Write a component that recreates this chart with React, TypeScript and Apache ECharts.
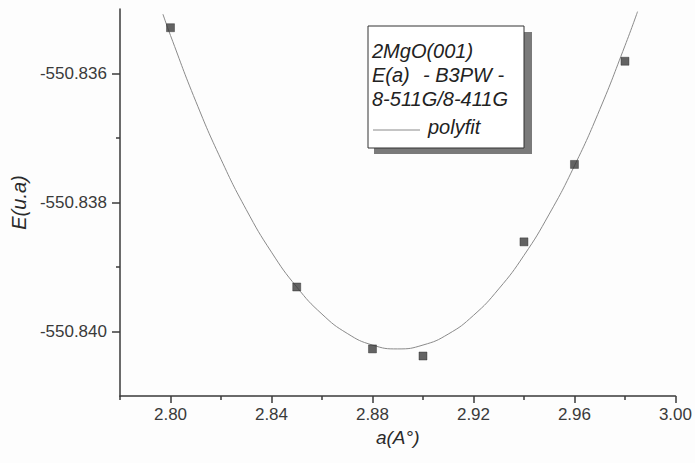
import React, { useEffect, useRef } from "react";
import * as echarts from "echarts";

// Measured data points: lattice parameter a (Å) vs energy E (u.a)
const latticeA = [2.80, 2.85, 2.88, 2.90, 2.94, 2.96, 2.98];
const energyE = [-550.83529, -550.83931, -550.84027, -550.84038, -550.83861, -550.83741, -550.83581];

// Polyfit curve
const fitA = [2.797, 2.80, 2.81, 2.82, 2.83, 2.84, 2.85, 2.86, 2.87, 2.88, 2.89, 2.90, 2.91, 2.92, 2.93, 2.94, 2.95, 2.96, 2.97, 2.98, 2.985];
const fitE = [
  -550.83508, -550.83541, -550.83643, -550.83733, -550.83811, -550.83877, -550.83931, -550.83973, -550.84003, -550.84021,
  -550.84027, -550.84021, -550.84004, -550.83975, -550.83934, -550.83882, -550.83818, -550.83743, -550.83656, -550.83557, -550.83504,
];

// Axis ticks
const xMajorTicks = [2.80, 2.84, 2.88, 2.92, 2.96, 3.00];
const xMinorTicks = [2.78, 2.82, 2.86, 2.90, 2.94, 2.98];
const yMajorTicks = [-550.840, -550.838, -550.836];
const yMinorTicks = [-550.839, -550.837];

const legendLines = ["2MgO(001)", "E(a)", "- B3PW -", "8-511G/8-411G", "polyfit"];

const FONT = "'Liberation Sans', Arial, sans-serif";
const AXIS_COLOR = "#3a3a3a";

export default function App() {
  const ref = useRef<HTMLDivElement>(null);
  useEffect(() => {
    if (!ref.current) return;
    const chart = echarts.init(ref.current, null, { renderer: "svg" });
    const legendFont = { fontFamily: FONT, fontStyle: "italic", fontSize: 20, fill: "#222" };
    chart.setOption({
      animation: false,
      backgroundColor: "#fdfdfd",
      grid: { left: 120, right: 16, top: 9, bottom: 67, containLabel: false },
      xAxis: [
        {
          type: "value",
          min: 2.78,
          max: 3.0,
          position: "bottom",
          name: "a(A°)",
          nameLocation: "middle",
          nameGap: 41,
          nameTextStyle: { fontFamily: FONT, fontStyle: "italic", fontSize: 19, color: "#2a2a2a", verticalAlign: "middle" },
          axisLine: { show: true, lineStyle: { color: AXIS_COLOR, width: 1.5 } },
          axisTick: { show: true, length: 7, customValues: xMajorTicks, lineStyle: { color: AXIS_COLOR, width: 1.5 } },
          axisLabel: {
            customValues: xMajorTicks,
            margin: 10,
            fontFamily: FONT,
            fontSize: 17,
            color: "#3a3a3a",
            formatter: (v: number) => v.toFixed(2),
          },
          splitLine: { show: false },
        },
        {
          type: "value",
          min: 2.78,
          max: 3.0,
          position: "bottom",
          axisLine: { show: false },
          axisTick: { show: true, length: 4, customValues: xMinorTicks, lineStyle: { color: AXIS_COLOR, width: 1.5 } },
          axisLabel: { show: false },
          splitLine: { show: false },
        },
      ],
      yAxis: [
        {
          type: "value",
          min: -550.841,
          max: -550.835,
          position: "left",
          name: "E(u.a)",
          nameLocation: "middle",
          nameRotate: 90,
          nameGap: 98,
          nameTextStyle: { fontFamily: FONT, fontStyle: "italic", fontSize: 20, color: "#2a2a2a", verticalAlign: "middle" },
          axisLine: { show: true, lineStyle: { color: AXIS_COLOR, width: 1.5 } },
          axisTick: { show: true, length: 8, customValues: yMajorTicks, lineStyle: { color: AXIS_COLOR, width: 1.5 } },
          axisLabel: {
            customValues: yMajorTicks,
            margin: 13,
            fontFamily: FONT,
            fontSize: 17,
            color: "#3a3a3a",
            formatter: (v: number) => v.toFixed(3),
          },
          splitLine: { show: false },
        },
        {
          type: "value",
          min: -550.841,
          max: -550.835,
          position: "left",
          axisLine: { show: false },
          axisTick: { show: true, length: 4, customValues: yMinorTicks, lineStyle: { color: AXIS_COLOR, width: 1.5 } },
          axisLabel: { show: false },
          splitLine: { show: false },
        },
      ],
      series: [
        {
          name: "polyfit",
          type: "line",
          xAxisIndex: 0,
          yAxisIndex: 0,
          data: fitA.map((a, i) => [a, fitE[i]]),
          showSymbol: false,
          smooth: true,
          lineStyle: { color: "#8a8a8a", width: 1 },
          z: 2,
        },
        {
          name: "E(a)",
          type: "scatter",
          xAxisIndex: 0,
          yAxisIndex: 0,
          data: latticeA.map((a, i) => [a, energyE[i]]),
          symbol: "rect",
          symbolSize: 8,
          itemStyle: { color: "#3c3c3c", borderColor: "#222", borderWidth: 0.5 },
          z: 3,
        },
      ],
      graphic: [
        { type: "rect", shape: { x: 374, y: 32, width: 158, height: 122 }, style: { fill: "#7a7a7a" }, z: 10 },
        { type: "rect", shape: { x: 368, y: 26, width: 156, height: 122 }, style: { fill: "#ffffff", stroke: "#333", lineWidth: 1 }, z: 11 },
        { type: "text", x: 372, y: 51, style: { ...legendFont, text: legendLines[0], verticalAlign: "middle" }, z: 12 },
        { type: "text", x: 372, y: 75, style: { ...legendFont, text: legendLines[1], verticalAlign: "middle" }, z: 12 },
        { type: "text", x: 423, y: 75, style: { ...legendFont, text: legendLines[2], verticalAlign: "middle" }, z: 12 },
        { type: "text", x: 372, y: 99, style: { ...legendFont, text: legendLines[3], verticalAlign: "middle" }, z: 12 },
        { type: "line", shape: { x1: 373, y1: 130, x2: 420, y2: 130 }, style: { stroke: "#8a8a8a", lineWidth: 1 }, z: 12 },
        { type: "text", x: 428, y: 127, style: { ...legendFont, text: legendLines[4], verticalAlign: "middle" }, z: 12 },
      ],
    });
    return () => chart.dispose();
  }, []);
  return <div ref={ref} style={{ width: 695, height: 463, position: "absolute", left: 0, top: 0 }} />;
}
